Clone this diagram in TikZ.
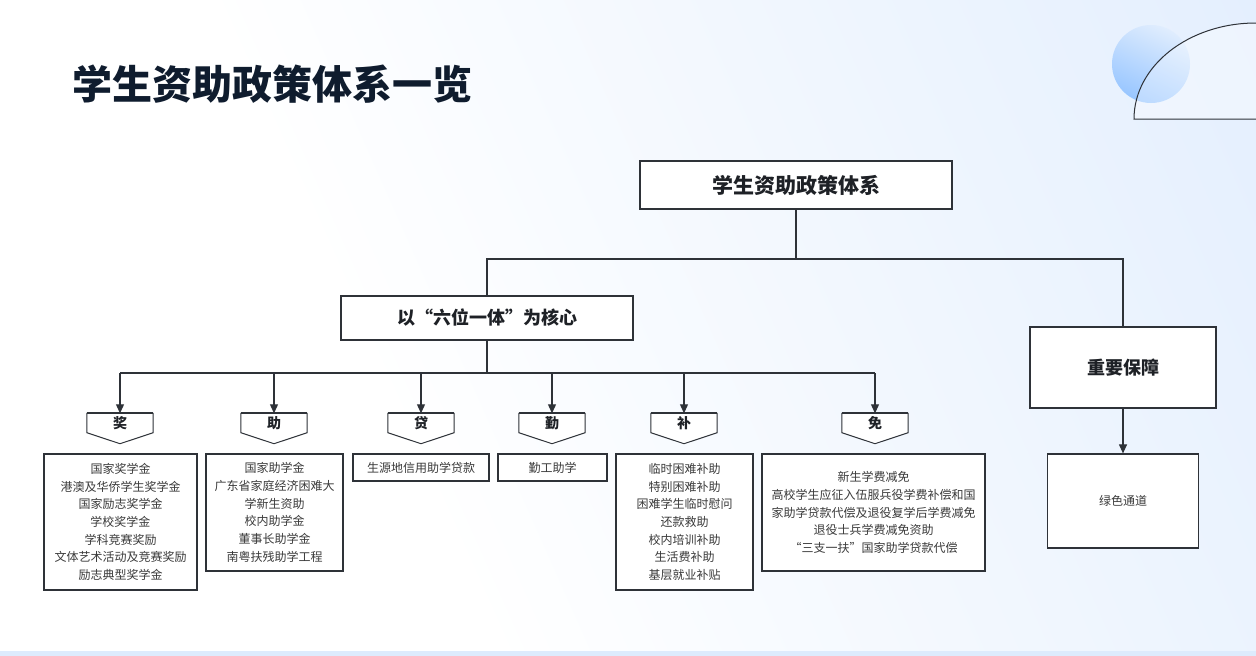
\documentclass[tikz,border=0pt]{standalone}
\usepackage{fontspec}
\setmainfont{Noto Sans CJK SC}
\usetikzlibrary{arrows.meta,calc}
\definecolor{bgblue}{HTML}{DAE9FD}
\definecolor{stripblue}{HTML}{DDEBFD}
\definecolor{circbot}{HTML}{98C6FF}
\definecolor{circtop}{HTML}{E0EDFE}
\definecolor{linec}{HTML}{2E3238}
\definecolor{titlec}{HTML}{0F1C2E}
\definecolor{headc}{HTML}{1E2126}
\definecolor{detailc}{HTML}{3A3A3A}
\pgfdeclarelayer{back}
\pgfdeclarelayer{bg}
\pgfsetlayers{back,bg,main}
\pgfdeclarehorizontalshading{bgsh}{100bp}{color(0bp)=(white); color(38bp)=(white); color(100bp)=(bgblue)}
\begin{document}
\begin{tikzpicture}[x=1pt,y=-1pt,
  box/.style={draw=linec, line width=1.2pt, fill=white, inner sep=0pt, align=center},
  headbox/.style={box, line width=1.5pt, text=headc, font=\bfseries\fontsize{18}{22}\selectfont},
  detail/.style={box, text=detailc, font=\fontsize{12}{17.7}\selectfont},
  pentlabel/.style={inner sep=0pt, minimum height=19pt, minimum width=66pt, text=headc, font=\bfseries\fontsize{14}{16}\selectfont},
  pent/.style={draw=linec, line width=1pt, fill=white},
  conn/.style={draw=linec, line width=1.1pt},
  arr/.style={conn, -{Triangle[length=9pt,width=8pt]}}]
\useasboundingbox (0,0) rectangle (1256,656);
\begin{pgfonlayer}{back}
  \shade[shading=bgsh, shading angle=24] (0,0) rectangle (1256,656);
  \fill[stripblue] (0,651) rectangle (1256,656);
  \shade[top color=circtop, bottom color=circbot, shading angle=-25] (1151,64) circle[radius=39];
  \fill[white, opacity=0.35] (1256,119) -- (1134,119) arc[start angle=180, end angle=270, x radius=122, y radius=96] -- cycle;
  \draw[linec, line width=1pt] (1256,119) -- (1134,119) arc[start angle=180, end angle=270, x radius=122, y radius=96];
\end{pgfonlayer}

\node[anchor=west, inner sep=0pt, text=titlec, font=\bfseries\fontsize{40}{48}\selectfont] (title) at (72,84) {学生资助政策体系一览};

\node[headbox, minimum width=312pt, minimum height=48pt, font=\bfseries\fontsize{21}{25}\selectfont] (top) at (796,185) {学生资助政策体系};
\node[headbox, minimum width=292pt, minimum height=44pt] (core) at (487,318) {以“六位一体”为核心};
\node[headbox, minimum width=186pt, minimum height=81pt] (guar) at (1123,367.5) {重要保障};
\node[detail, minimum width=151pt, minimum height=94pt] (green) at (1123,501) {绿色通道};

\coordinate (j1) at (796,259);
\coordinate (j2) at (487,373);
\draw[conn] (top.south) -- (j1);
\draw[conn] (core.north) |- (j1) -| (guar.north);
\draw[conn] (core.south) -- (j2);
\draw[arr] (guar.south) -- (green.north);

\foreach \x/\n/\t in {120/p1/奖, 274/p2/助, 421/p3/贷, 552/p4/勤, 684/p5/补, 875/p6/免} {
  \node[pentlabel] (\n) at (\x,423) {\t};
  \begin{pgfonlayer}{bg}
    \filldraw[pent] (\n.north west) -- (\n.north east) -- (\n.south east) -- ($(\n.south)+(0,11)$) -- (\n.south west) -- cycle;
    \draw[linec, line width=2pt] (\n.north west) -- (\n.north east);
  \end{pgfonlayer}
}
\draw[conn] (p1.north |- j2) -- (p6.north |- j2);
\foreach \n in {p1,p2,p3,p4,p5,p6} {
  \draw[arr] (\n.north |- j2) -- (\n.north);
}

\node[detail, minimum width=153pt, minimum height=136pt] (b1) at (120.5,522) {国家奖学金\\港澳及华侨学生奖学金\\国家励志奖学金\\学校奖学金\\学科竞赛奖励\\文体艺术活动及竞赛奖励\\励志典型奖学金};
\node[detail, minimum width=137pt, minimum height=117pt] (b2) at (274.5,512.5) {国家助学金\\广东省家庭经济困难大\\学新生资助\\校内助学金\\董事长助学金\\南粤扶残助学工程};
\node[detail, minimum width=136pt, minimum height=27pt] (b3) at (421,467.5) {生源地信用助学贷款};
\node[detail, minimum width=109pt, minimum height=27pt] (b4) at (552.5,467.5) {勤工助学};
\node[detail, minimum width=137pt, minimum height=136pt] (b5) at (684.5,522) {临时困难补助\\特别困难补助\\困难学生临时慰问\\还款救助\\校内培训补助\\生活费补助\\基层就业补贴};
\node[detail, minimum width=223pt, minimum height=117pt] (b6) at (873.5,512.5) {新生学费减免\\高校学生应征入伍服兵役学费补偿和国\\家助学贷款代偿及退役复学后学费减免\\退役士兵学费减免资助\\“三支一扶”国家助学贷款代偿};
\end{tikzpicture}
\end{document}
